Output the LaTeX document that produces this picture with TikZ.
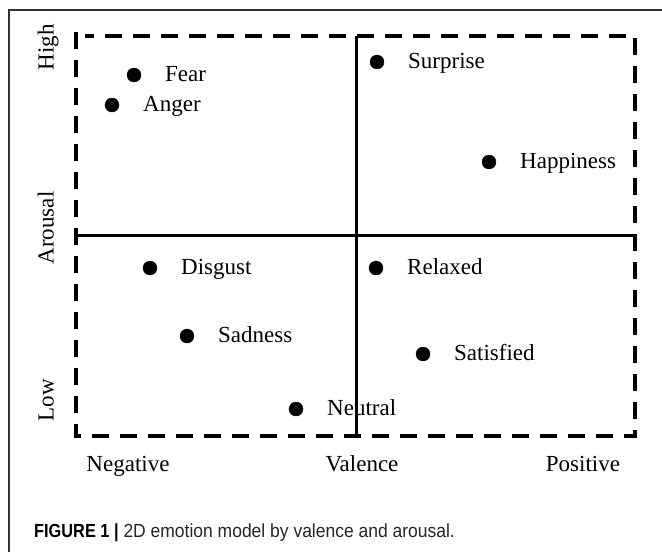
\documentclass[tikz,border=0pt]{standalone}
\usepackage{fontspec}
\setmainfont{Liberation Serif}
\newfontfamily\capfont[FakeStretch=0.92]{Liberation Sans}
\newfontfamily\capboldfont[FakeStretch=0.86]{Liberation Sans Bold}
\usetikzlibrary{positioning}

\begin{document}
\begin{tikzpicture}[
        x = 1pt, y = -1pt,
        dot/.style = {
            draw,
            circle,
            fill,
            minimum size = #1,
            inner sep = 0pt,
            outer sep = 0pt
        },
        dot/.default = 14pt,
        lab/.style = {
            inner sep = 0pt,
            font = \fontsize{23}{27}\selectfont,
            text height = 1.3em,
            text depth = 0pt
        },
        node distance = {24pt}
        ]
        \useasboundingbox (0,0) rectangle (662,552);
%
        \draw[line width = 1.2pt, black!80] (9,552) -- (9,10) -- (662,10);
%
        \coordinate (tl) at (76,36);
        \coordinate (tr) at (635,36);
        \coordinate (bl) at (76,436);
        \coordinate (br) at (635,436);
        \coordinate (ml) at (76,235);
        \coordinate (mr) at (635,235);
        \coordinate (mt) at (356,36);
        \coordinate (mb) at (356,436);
%
        \draw[line width = 4pt, dash pattern = on 17pt off 11pt]
            ([yshift=4pt]tl) -- (bl) -- (br) -- (tr) -- ([xshift=9pt]tl);
        \draw[line width = 3pt] (ml) -- (mr);
        \draw[line width = 3pt] (mt) -- (mb);
%
        \node[lab] (neg) at (128,465) {Negative};
        \node[lab] (val) at (362,465) {Valence};
        \node[lab] (pos) at (583,465) {Positive};
%
        \node[lab, rotate = 90] (high) at (47,47) {High};
        \node[lab, rotate = 90] (aro) at (47,228) {Arousal};
        \node[lab, rotate = 90] (low) at (47,400) {Low};
%
        \node[dot] (fear) at (134,75) {};
        \node[lab, right = of fear] (fearL) {Fear};
%
        \node[dot] (anger) at (112,105) {};
        \node[lab, right = of anger] (angerL) {Anger};
%
        \node[dot] (surp) at (377,62) {};
        \node[lab, right = of surp] (surpL) {Surprise};
%
        \node[dot] (happy) at (489,162) {};
        \node[lab, right = of happy] (happyL) {Happiness};
%
        \node[dot] (disg) at (150,268) {};
        \node[lab, right = of disg] (disgL) {Disgust};
%
        \node[dot] (relax) at (376,268) {};
        \node[lab, right = of relax] (relaxL) {Relaxed};
%
        \node[dot] (sad) at (187,336) {};
        \node[lab, right = of sad] (sadL) {Sadness};
%
        \node[dot] (satis) at (423,354) {};
        \node[lab, right = of satis] (satisL) {Satisfied};
%
        \node[dot] (neut) at (296,409) {};
        \node[lab, right = of neut] (neutL) {Neutral};
%
        \node[anchor = base west, inner sep = 0pt, font = \capfont\fontsize{19}{23}\selectfont, text = black!85] (cap) at (34,537)
            {{\capboldfont\color{black}FIGURE 1 |} 2D emotion model by valence and arousal.};
\end{tikzpicture}
\end{document}
